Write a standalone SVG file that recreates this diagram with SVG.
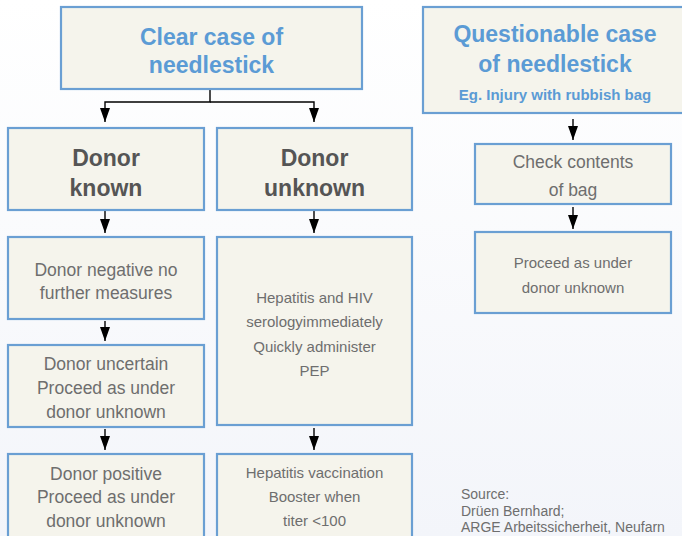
<svg xmlns="http://www.w3.org/2000/svg" width="682" height="536" viewBox="0 0 682 536">
<defs>
<linearGradient id="bg" x1="0" y1="0" x2="0" y2="1">
<stop offset="0" stop-color="#ffffff"/>
<stop offset="1" stop-color="#f3f5fa"/>
</linearGradient>
<marker id="ah" viewBox="0 0 14 10" refX="14" refY="5" markerWidth="14" markerHeight="10" markerUnits="userSpaceOnUse" orient="auto">
<path d="M0,0 L14,5 L0,10 Z" fill="#000"/>
</marker>
<style>
.box{fill:#f5f4ec;stroke:#6a9fd3;stroke-width:2.2}
.t{font-family:"Liberation Sans",Arial,sans-serif;text-anchor:middle}
.blue{fill:#5b9bd5;font-weight:bold;font-size:23px}
.head{fill:#555555;font-weight:bold;font-size:23px}
.b17{fill:#6e6e6e;font-size:17.5px}
.b15{fill:#6e6e6e;font-size:15px}
.src{font-family:"Liberation Sans",Arial,sans-serif;fill:#6e6e6e;font-size:14px}
.c{fill:none;stroke:#000;stroke-width:1.4}
</style>
</defs>
<rect x="0" y="0" width="682" height="536" fill="url(#bg)"/>
<g id="connectors">
<path class="c" d="M210,89 V102 H105 V122" marker-end="url(#ah)"/>
<path class="c" d="M210,102 H314 V122" marker-end="url(#ah)"/>
<line class="c" x1="105" y1="211" x2="105" y2="233" marker-end="url(#ah)"/>
<line class="c" x1="314" y1="211" x2="314" y2="233" marker-end="url(#ah)"/>
<line class="c" x1="105" y1="321" x2="105" y2="341" marker-end="url(#ah)"/>
<line class="c" x1="105" y1="429" x2="105" y2="450" marker-end="url(#ah)"/>
<line class="c" x1="314" y1="428" x2="314" y2="450" marker-end="url(#ah)"/>
<line class="c" x1="573" y1="119" x2="573" y2="140" marker-end="url(#ah)"/>
<line class="c" x1="573" y1="207" x2="573" y2="229" marker-end="url(#ah)"/>
</g>
<g id="clear">
<rect class="box" x="61" y="7" width="301" height="82"/>
<text class="t blue" x="211.5" y="45">Clear case of</text>
<text class="t blue" x="211.5" y="73">needlestick</text>
</g>
<g id="questionable">
<rect class="box" x="423" y="7" width="262" height="106"/>
<text class="t blue" x="555" y="42">Questionable case</text>
<text class="t blue" x="555" y="72">of needlestick</text>
<text class="t" x="555" y="100" style="fill:#5b9bd5;font-weight:bold;font-size:15px">Eg. Injury with rubbish bag</text>
</g>
<g id="known">
<rect class="box" x="8" y="128" width="196" height="82"/>
<text class="t head" x="106" y="166">Donor</text>
<text class="t head" x="106" y="196">known</text>
</g>
<g id="unknown">
<rect class="box" x="217" y="128" width="195" height="82"/>
<text class="t head" x="314.5" y="166">Donor</text>
<text class="t head" x="314.5" y="196">unknown</text>
</g>
<g id="negative">
<rect class="box" x="8" y="237" width="196" height="82"/>
<text class="t b17" x="106" y="276">Donor negative no</text>
<text class="t b17" x="106" y="299">further measures</text>
</g>
<g id="uncertain">
<rect class="box" x="8" y="345" width="196" height="82"/>
<text class="t b17" x="106" y="370">Donor uncertain</text>
<text class="t b17" x="106" y="394">Proceed as under</text>
<text class="t b17" x="106" y="418">donor unknown</text>
</g>
<g id="positive">
<rect class="box" x="8" y="454" width="196" height="90"/>
<text class="t b17" x="106" y="480">Donor positive</text>
<text class="t b17" x="106" y="503">Proceed as under</text>
<text class="t b17" x="106" y="527">donor unknown</text>
</g>
<g id="serology">
<rect class="box" x="217" y="237" width="195" height="188"/>
<text class="t b15" x="314.5" y="303">Hepatitis and HIV</text>
<text class="t b15" x="314.5" y="327">serologyimmediately</text>
<text class="t b15" x="314.5" y="351.5">Quickly administer</text>
<text class="t b15" x="314.5" y="375.5">PEP</text>
</g>
<g id="vaccination">
<rect class="box" x="217" y="454" width="195" height="90"/>
<text class="t b15" x="314.5" y="478">Hepatitis vaccination</text>
<text class="t b15" x="314.5" y="502">Booster when</text>
<text class="t b15" x="314.5" y="526">titer &lt;100</text>
</g>
<g id="check">
<rect class="box" x="475" y="144" width="196" height="60"/>
<text class="t b17" x="573" y="168">Check contents</text>
<text class="t b17" x="573" y="196">of bag</text>
</g>
<g id="proceed">
<rect class="box" x="475" y="232" width="196" height="81"/>
<text class="t b15" x="573" y="268">Proceed as under</text>
<text class="t b15" x="573" y="293">donor unknown</text>
</g>
<g id="source">
<text class="src" x="461" y="499">Source:</text>
<text class="src" x="461" y="515.5">Drüen Bernhard;</text>
<text class="src" x="461" y="532">ARGE Arbeitssicherheit, Neufarn</text>
</g>
</svg>
